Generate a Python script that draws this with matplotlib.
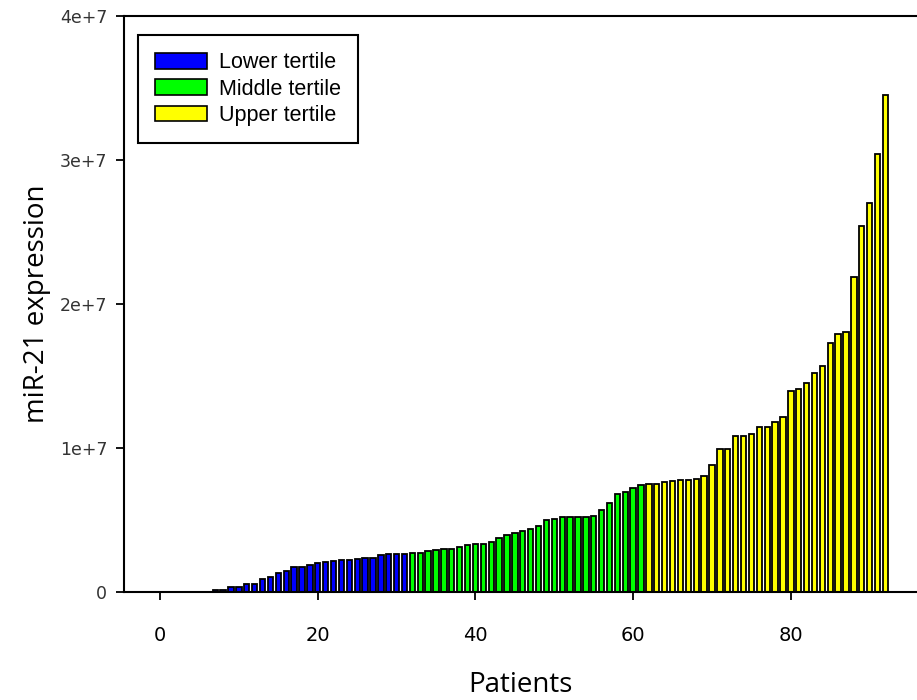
import numpy as np
import matplotlib
matplotlib.use("Agg")
import matplotlib.pyplot as plt
from matplotlib.patches import Patch

# miR-21 expression per patient (in units of 1e6), sorted ascending
lower = [0.01, 0.015, 0.02, 0.025, 0.03, 0.04, 0.15, 0.17, 0.37, 0.37,
         0.58, 0.60, 0.95, 1.05, 1.32, 1.50, 1.72, 1.72, 1.90, 2.06,
         2.08, 2.17, 2.25, 2.25, 2.32, 2.36, 2.38, 2.55, 2.62, 2.62,
         2.66]
middle = [2.72, 2.73, 2.85, 2.92, 3.00, 3.00, 3.12, 3.30, 3.38, 3.38,
          3.47, 3.75, 3.94, 4.08, 4.24, 4.40, 4.58, 4.98, 5.09, 5.23,
          5.23, 5.23, 5.23, 5.30, 5.74, 6.18, 6.83, 6.94, 7.24, 7.43]
upper = [7.48, 7.48, 7.62, 7.70, 7.78, 7.78, 7.85, 8.06, 8.82, 9.93,
         9.93, 10.83, 10.83, 10.95, 11.48, 11.48, 11.80, 12.15, 14.00, 14.10,
         14.50, 15.20, 15.70, 17.30, 17.90, 18.10, 21.90, 25.40, 27.00, 30.45,
         34.50]

labels = ["Lower tertile", "Middle tertile", "Upper tertile"]
colors = ["#0000ff", "#00ff00", "#ffff00"]

yticks = [0, 1e7, 2e7, 3e7, 4e7]
ytick_labels = ["0", "1e+7", "2e+7", "3e+7", "4e+7"]
xticks = [0, 20, 40, 60, 80]

fig = plt.figure(figsize=(9.17, 7.0), dpi=100)
ax = fig.add_axes([0.135, 0.154, 0.865, 0.823])

start = 1
for vals, col in zip([lower, middle, upper], colors):
    x = np.arange(start, start + len(vals))
    ax.bar(x, np.array(vals) * 1e6, width=0.68, color=col,
           edgecolor="black", linewidth=1.3, zorder=2)
    start += len(vals)

ax.set_xlim(-4.6, 96)
ax.set_ylim(0, 4e7)

ax.set_yticks(yticks)
ax.set_yticklabels(ytick_labels, family="DejaVu Sans", fontsize=12.5, color="#333333")
ax.set_xticks(xticks)
ax.set_xticklabels([str(t) for t in xticks],
                   family=["Liberation Sans Narrow", "DejaVu Sans"], fontsize=14)

ax.tick_params(axis="y", direction="out", length=6, width=1.3, pad=6)
ax.tick_params(axis="x", direction="out", length=6, width=1.3, pad=18)

for s in ["left", "bottom", "top"]:
    ax.spines[s].set_linewidth(1.5)
ax.spines["right"].set_visible(False)

ax.set_xlabel("Patients", family="Open Sans", fontsize=20, labelpad=19)
ax.set_ylabel("miR-21 expression", family="Open Sans", fontsize=20, labelpad=6)

handles = [Patch(facecolor=c, edgecolor="black", linewidth=1.2) for c in colors]
leg = ax.legend(handles, labels, loc="upper left", bbox_to_anchor=(0.0177, 0.967),
                borderaxespad=0, fancybox=False, framealpha=1, edgecolor="black",
                prop={"family": "Liberation Sans", "size": 15.5},
                handlelength=2.4, handleheight=0.75, handletextpad=0.55,
                labelspacing=0.25, borderpad=0.8)
leg.get_frame().set_linewidth(1.5)

fig.savefig("out.png", dpi=100)
